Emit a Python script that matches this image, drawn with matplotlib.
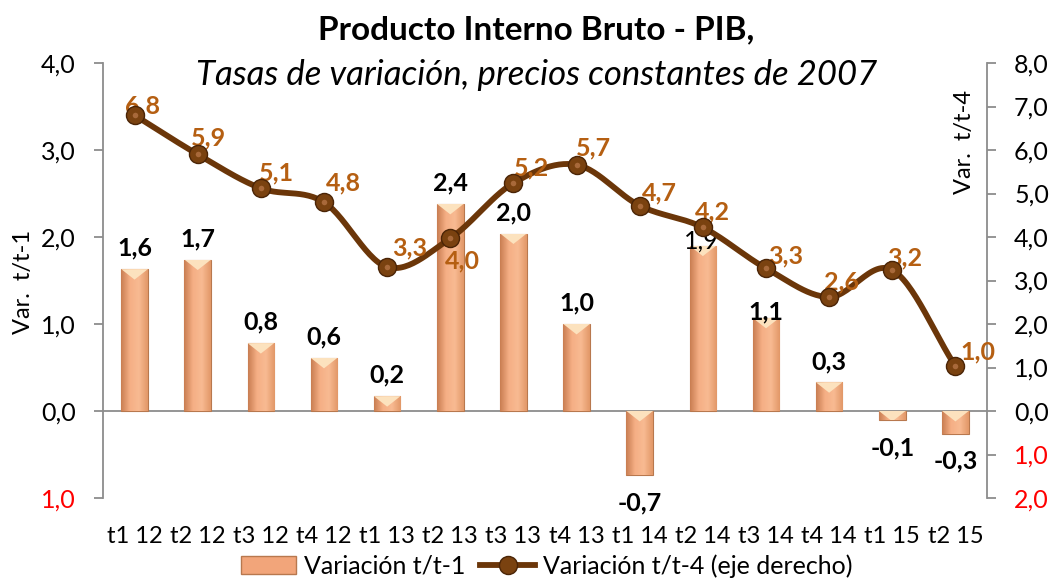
import numpy as np
import matplotlib.pyplot as plt
from matplotlib.patches import Patch, Polygon
from matplotlib.lines import Line2D
from matplotlib.colors import LinearSegmentedColormap

plt.rcParams['font.family'] = ['Lato', 'DejaVu Sans']

# data
periods = ['t1 12', 't2 12', 't3 12', 't4 12', 't1 13', 't2 13', 't3 13',
           't4 13', 't1 14', 't2 14', 't3 14', 't4 14', 't1 15', 't2 15']
var_t1 = [1.63, 1.74, 0.78, 0.61, 0.17, 2.38, 2.04, 1.0, -0.74, 1.9, 1.07, 0.33, -0.1, -0.26]
var_t4 = [6.8, 5.9, 5.12, 4.8, 3.31, 3.97, 5.24, 5.66, 4.72, 4.22, 3.28, 2.62, 3.24, 1.03]
left_ticks = [-1, 0, 1, 2, 3, 4]
right_ticks = [-2, -1, 0, 1, 2, 3, 4, 5, 6, 7, 8]

# label offsets (points) for the line labels, as placed in the original
t4_offsets = [(6, 7), (8, 12), (11, 11), (14, 14), (16, 14), (9, -16), (13, 11),
              (12, 12), (14, 9), (7, 11), (14, 9), (9, 11), (9, 9), (16, 10)]

BAR_COL = '#F2A57A'
BAR_EDGE = '#B8784E'
LINE_COL = '#6B3609'
MARK_COL = '#7A4210'
LBL_COL = '#B55F12'
GRAY = '#8C8C8C'


def fmt(v):
    return f"{abs(v):.1f}".replace('.', ',')


def catmull(xs, ys, n=30):
    # smooth curve through the points, like excel's smoothed line
    xs = np.asarray(xs, float)
    ys = np.asarray(ys, float)
    px = np.concatenate([[2 * xs[0] - xs[1]], xs, [2 * xs[-1] - xs[-2]]])
    py = np.concatenate([[2 * ys[0] - ys[1]], ys, [2 * ys[-1] - ys[-2]]])
    out_x, out_y = [], []
    t = np.linspace(0, 1, n)
    for i in range(1, len(px) - 2):
        for p, out in ((px, out_x), (py, out_y)):
            p0, p1, p2, p3 = p[i - 1], p[i], p[i + 1], p[i + 2]
            out.extend(0.5 * (2 * p1 + (-p0 + p2) * t
                              + (2 * p0 - 5 * p1 + 4 * p2 - p3) * t ** 2
                              + (-p0 + 3 * p1 - 3 * p2 + p3) * t ** 3))
    return out_x, out_y


fig = plt.figure(figsize=(10.62, 5.79), dpi=100)
ax = fig.add_axes([103 / 1062, 1 - 498 / 579, 884 / 1062, 435 / 579])
x = np.arange(len(periods))

bars = ax.bar(x, var_t1, width=0.42, color=BAR_COL, edgecolor=BAR_EDGE,
              linewidth=0.8, zorder=2)
cmap = LinearSegmentedColormap.from_list('bev', ['#C97E52', '#F5AF85', '#F8BA92', '#E29868'])
grad = np.linspace(0, 1, 64).reshape(1, -1)
for rect in bars:
    x0, y0 = rect.get_x(), rect.get_y()
    w, h = rect.get_width(), rect.get_height()
    im = ax.imshow(grad, cmap=cmap, extent=[x0, x0 + w, y0, y0 + h],
                   aspect='auto', zorder=2.1)
    im.set_clip_path(rect)
    # light bevel on the top edge
    top = max(y0, y0 + h)
    tri = Polygon([[x0, top], [x0 + w, top], [x0 + w / 2, top - 0.12]],
                  closed=True, facecolor='#FCE2BE', edgecolor='none', zorder=2.2)
    ax.add_patch(tri)
    tri.set_clip_path(rect)

ax.axhline(0, color=GRAY, lw=1.3, zorder=1.5)
ax.set_xlim(-0.5, len(periods) - 0.5)
ax.set_ylim(-1, 4)
ax.set_yticks(left_ticks)
ax.set_yticklabels([fmt(v) for v in left_ticks], fontsize=18)
for lab, v in zip(ax.get_yticklabels(), left_ticks):
    if v < 0:
        lab.set_color('red')
ax.set_xticks(x)
ax.set_xticklabels(periods, fontsize=17)
ax.tick_params(axis='x', length=0, pad=20)
ax.tick_params(axis='y', length=6.5, color=GRAY, width=1.3, pad=13)
for s in ['top', 'right', 'bottom']:
    ax.spines[s].set_visible(False)
ax.spines['left'].set_color(GRAY)
ax.spines['left'].set_linewidth(1.3)

for xi, v in zip(x, var_t1):
    if xi == 9:
        # label sits on the bar top, under the line marker
        ax.annotate(fmt(v), (xi, v), xytext=(-1, 3), textcoords='offset points',
                    ha='center', va='center', fontsize=18)
    elif xi == 10:
        ax.annotate(fmt(v), (xi, v), xytext=(0, 4), textcoords='offset points',
                    ha='center', va='center', fontsize=18, fontweight='bold')
    elif v >= 0:
        ax.annotate(fmt(v), (xi, v), xytext=(0, 15), textcoords='offset points',
                    ha='center', va='center', fontsize=18, fontweight='bold')
    else:
        ax.annotate('-' + fmt(v), (xi, v), xytext=(0, -20),
                    textcoords='offset points', ha='center', va='center',
                    fontsize=18, fontweight='bold')

ax2 = ax.twinx()
ax2.set_ylim(-2, 8)
ax2.set_yticks(right_ticks)
ax2.set_yticklabels([fmt(v) for v in right_ticks], fontsize=18)
for lab, v in zip(ax2.get_yticklabels(), right_ticks):
    if v < 0:
        lab.set_color('red')
ax2.tick_params(axis='y', length=6.5, color=GRAY, width=1.3, pad=13)
for s in ['top', 'left', 'bottom']:
    ax2.spines[s].set_visible(False)
ax2.spines['right'].set_color(GRAY)
ax2.spines['right'].set_linewidth(1.3)

sx, sy = catmull(x, var_t4)
ax2.plot(sx, sy, color=LINE_COL, lw=4.2, solid_capstyle='round', zorder=3)
ax2.plot(x, var_t4, 'o', ms=13, color=MARK_COL, mec='#4A2406', mew=1, zorder=4)
# small highlight on the markers for the rounded look
ax2.plot(x, var_t4, 'o', ms=4, color='#A8693A', mec='none', zorder=4.1,
         transform=ax2.transData)

for xi, v in zip(x, var_t4):
    ax2.annotate(fmt(v), (xi, v), xytext=t4_offsets[xi], textcoords='offset points',
                 ha='center', va='center', fontsize=18, fontweight='bold',
                 color=LBL_COL, zorder=3.5)

fig.text(0.505, 1 - 30 / 579, 'Producto Interno Bruto - PIB,', ha='center',
         va='center', fontsize=24, fontweight='bold')
fig.text(0.505, 1 - 75 / 579, 'Tasas de variación, precios constantes de 2007',
         ha='center', va='center', fontsize=25, style='italic')
fig.text(0.022, 1 - 282 / 579, 'Var.  t/t-1', rotation=90, ha='center',
         va='center', fontsize=17)
fig.text(965 / 1062, 1 - 142 / 579, 'Var.  t/t-4', rotation=90, ha='center',
         va='center', fontsize=17)

handles = [Patch(facecolor=BAR_COL, edgecolor=BAR_EDGE),
           Line2D([0], [0], color=LINE_COL, lw=4.2, marker='o', ms=13,
                  mfc=MARK_COL, mec='#4A2406')]
fig.legend(handles, ['Variación t/t-1', 'Variación t/t-4 (eje derecho)'],
           loc='center', bbox_to_anchor=(0.515, 1 - 566 / 579), ncol=2,
           frameon=False, fontsize=18, handlelength=2.2, handleheight=0.7,
           columnspacing=0.6, handletextpad=0.3, borderaxespad=0)

fig.savefig('out.png', dpi=100)
